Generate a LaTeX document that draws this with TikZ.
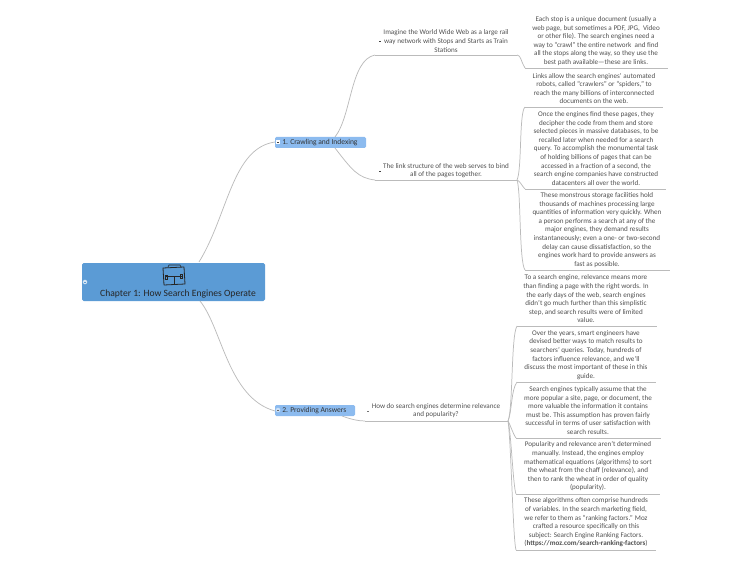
\documentclass[tikz,border=0pt]{standalone}
\usepackage{fontspec}
\setmainfont{Carlito}
\usetikzlibrary{calc,positioning}
\definecolor{rootblue}{HTML}{5B9BD5}
\definecolor{topicblue}{HTML}{8CBBEF}
\definecolor{linegray}{HTML}{BBBBBB}
\definecolor{textgray}{HTML}{505050}
\tikzset{branch/.style={draw=linegray,line width=0.55pt}}
\tikzset{note/.style={align=center,text=textgray,inner sep=0pt,font=\fontsize{5.35}{6.45}\selectfont}}
\tikzset{rootbox/.style={fill=rootblue,rounded corners=1.2pt,inner sep=0pt}}
\tikzset{topicbox/.style={fill=topicblue,rounded corners=1pt,inner sep=0pt}}
\tikzset{topictext/.style={text=black!80,inner sep=0pt,font=\fontsize{5.65}{6.5}\selectfont}}
\tikzset{markbar/.style={fill=black!75,inner sep=0pt,minimum width=2.2pt,minimum height=0.7pt}}
\tikzset{markdot/.style={circle,fill=white!75!rootblue,inner sep=0pt,minimum size=3.4pt}}

\begin{document}
\begin{tikzpicture}[x=0.75pt,y=-0.75pt]
      \useasboundingbox (0,0) rectangle (750,563);
      % main boxes
      \node[rootbox,minimum width=137.25pt,minimum height=28.5pt] (root) at (173.5,282) {};
      \node[topicbox,minimum width=68.25pt,minimum height=8.25pt] (crawl) at (320.5,142.5) {};
      \node[topicbox,minimum width=60pt,minimum height=8.25pt] (answer) at (315,410.5) {};
      \node[text=black!85,inner sep=0pt,font=\fontsize{7.2}{8}\selectfont] (roottext) at (178,294) {Chapter 1: How Search Engines Operate};
      \node[topictext,anchor=west] (crawltext) at (282,142.5) {1. Crawling and Indexing};
      \node[topictext,anchor=west] (answertext) at (282,410.5) {2. Providing Answers};
      % joints
      \coordinate (rootup) at (199,262);
      \coordinate (rootdown) at (200,301);
      \coordinate (crawlin) at (275,142);
      \coordinate (answerin) at (275,411);
      \coordinate (crawlup) at (335,137);
      \coordinate (crawldown) at (335,148);
      \coordinate (answerout) at (342,416);
      \coordinate (railL) at (375,55);
      \coordinate (railR) at (517,55);
      \coordinate (linkL) at (375,180);
      \coordinate (linkR) at (517,180);
      \coordinate (howL) at (365,421);
      \coordinate (howR) at (508,421);
      \coordinate (aL) at (525,68);
      \coordinate (aR) at (668,68);
      \coordinate (bL) at (525,107);
      \coordinate (bR) at (663,107);
      \coordinate (cL) at (525,189);
      \coordinate (cR) at (666,189);
      \coordinate (dL) at (525,270);
      \coordinate (dR) at (670,270);
      \coordinate (eL) at (517,326);
      \coordinate (eR) at (657,326);
      \coordinate (fL) at (517,382);
      \coordinate (fR) at (656,382);
      \coordinate (gL) at (516,438);
      \coordinate (gR) at (661,438);
      \coordinate (hL) at (516,494);
      \coordinate (hR) at (660,494);
      \coordinate (iL) at (516,550);
      \coordinate (iR) at (656,550);
      % connectors
      \draw[branch] (rootup) .. controls (228,215) and (232,148) .. (crawlin);
      \draw[branch] (rootdown) .. controls (222,328) and (228,398) .. (answerin);
      \draw[branch] (crawlup) .. controls (352,115) and (350,60) .. (railL);
      \draw[branch] (crawldown) .. controls (352,170) and (358,178) .. (linkL);
      \draw[branch] (answerout) .. controls (350,419) and (358,421) .. (howL);
      \draw[branch] (railL) -- (railR);
      \draw[branch] (linkL) -- (linkR);
      \draw[branch] (howL) -- (howR);
      \draw[branch] (railR) .. controls (521,55) and (521,62) .. (aL);
      \draw[branch] (linkR) .. controls (522,170) and (519,112) .. (bL);
      \draw[branch] (linkR) .. controls (520,181) and (522,186) .. (cL);
      \draw[branch] (linkR) .. controls (521,190) and (519,262) .. (dL);
      \draw[branch] (howR) .. controls (513,410) and (511,335) .. (eL);
      \draw[branch] (howR) .. controls (512,412) and (511,390) .. (fL);
      \draw[branch] (howR) .. controls (510,424) and (513,434) .. (gL);
      \draw[branch] (howR) .. controls (511,430) and (513,486) .. (hL);
      \draw[branch] (howR) .. controls (511,440) and (513,540) .. (iL);
      \draw[branch] (aL) -- (aR);
      \draw[branch] (bL) -- (bR);
      \draw[branch] (cL) -- (cR);
      \draw[branch] (dL) -- (dR);
      \draw[branch] (eL) -- (eR);
      \draw[branch] (fL) -- (fR);
      \draw[branch] (gL) -- (gR);
      \draw[branch] (hL) -- (hR);
      \draw[branch] (iL) -- (iR);
      % second level
      \node[note] (rail) at (446,41) {Imagine the World Wide Web as a large rail\\way network with Stops and Starts as Train\\Stations};
      \node[note] (link) at (446,170.5) {The link structure of the web serves to bind\\all of the pages together.};
      \node[note] (how) at (436,410.5) {How do search engines determine relevance\\and popularity?};
      % third level
      \node[note] (a) at (596,41) {Each stop is a unique document (usually a\\web page, but sometimes a PDF, JPG,\ \ Video\\or other file). The search engines need a\\way to “crawl” the entire network\ \ and find\\all the stops along the way, so they use the\\best path available—these are links.};
      \node[note] (b) at (594,88.5) {Links allow the search engines’ automated\\robots, called “crawlers” or “spiders,” to\\reach the many billions of interconnected\\documents on the web.};
      \node[note] (c) at (596,148.5) {Once the engines find these pages, they\\decipher the code from them and store\\selected pieces in massive databases, to be\\recalled later when needed for a search\\query. To accomplish the monumental task\\of holding billions of pages that can be\\accessed in a fraction of a second, the\\search engine companies have constructed\\datacenters all over the world.};
      \node[note] (d) at (597,230) {These monstrous storage facilities hold\\thousands of machines processing large\\quantities of information very quickly. When\\a person performs a search at any of the\\major engines, they demand results\\instantaneously; even a one- or two-second\\delay can cause dissatisfaction, so the\\engines work hard to provide answers as\\fast as possible.};
      \node[note] (e) at (586,299) {To a search engine, relevance means more\\than finding a page with the right words. In\\the early days of the web, search engines\\didn’t go much further than this simplistic\\step, and search results were of limited\\value.};
      \node[note] (f) at (586,355) {Over the years, smart engineers have\\devised better ways to match results to\\searchers’ queries. Today, hundreds of\\factors influence relevance, and we’ll\\discuss the most important of these in this\\guide.};
      \node[note] (g) at (588,410.5) {Search engines typically assume that the\\more popular a site, page, or document, the\\more valuable the information it contains\\must be. This assumption has proven fairly\\successful in terms of user satisfaction with\\search results.};
      \node[note] (h) at (588,466.5) {Popularity and relevance aren’t determined\\manually. Instead, the engines employ\\mathematical equations (algorithms) to sort\\the wheat from the chaff (relevance), and\\then to rank the wheat in order of quality\\(popularity).};
      \node[note] (i) at (586,522.5) {These algorithms often comprise hundreds\\of variables. In the search marketing field,\\we refer to them as “ranking factors.” Moz\\crafted a resource specifically on this\\subject: Search Engine Ranking Factors.\\(\textbf{https://moz.com/search-ranking-factors})};
      % collapse marks
      \node[markdot] (rootdot) at (85,282) {};
      \node[markbar,fill=rootblue] (rootbar) at (85,282) {};
      \node[fill=white,inner sep=0pt,minimum width=3pt,minimum height=3.5pt] (crawldot) at (278,142) {};
      \node[markbar] (crawlbar) at (278,142) {};
      \node[markdot,fill=white!55!topicblue] (answerdot) at (278,410) {};
      \node[markbar,fill=black!60] (answerbar) at (278,410) {};
      \node[markbar] (railbar) at (380,41) {};
      \node[markbar] (linkbar) at (380,171) {};
      \node[markbar,fill=black!55] (howbar) at (368,411) {};
      % case icon
      \draw[black!85,line width=0.6pt,line join=round] (163,268) -- (184,267) -- (185,284) -- (164,285) -- cycle;
      \draw[black!85,line width=0.5pt] (168,267) -- (169,265) -- (180,265) -- (181,267);
      \draw[black!85,line width=0.45pt] (165,276) -- (183,276) (174,276) -- (174,284);
      \draw[black!85,line width=0.45pt] (165,275) rectangle (167,279) (180,274) rectangle (182,278);
    \end{tikzpicture}
\end{document}
